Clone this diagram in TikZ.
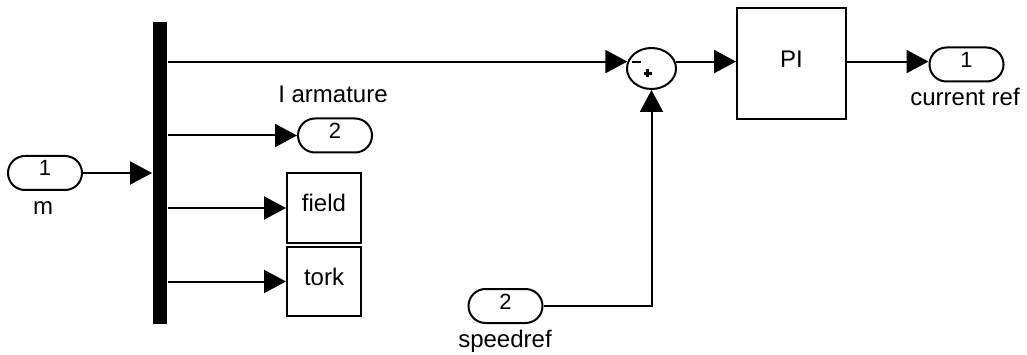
\documentclass[tikz,border=0pt]{standalone}
\usepackage{fontspec}
\setmainfont{Liberation Sans}
\usetikzlibrary{arrows.meta,shapes.misc,shapes.geometric,calc}
\begin{document}
\begin{tikzpicture}[x=1pt,y=-1pt,
  line width=2pt,
  sig/.style={draw, -{Triangle[length=22pt,width=23pt]}},
  port/.style={draw, rounded rectangle, minimum width=74pt, minimum height=34pt,
    inner sep=0pt, font=\fontsize{22}{22}\selectfont, text height=16pt, text depth=10pt},
  blk/.style={draw, rectangle, inner sep=0pt, font=\fontsize{24}{24}\selectfont,
    text height=17pt, text depth=9pt},
  lbl/.style={font=\fontsize{24}{24}\selectfont, inner sep=0pt, anchor=base},
  sign/.style={line width=2.2pt},
]
\useasboundingbox (0,0) rectangle (1027,355);

% inports
\node[port] (in1) at (45,173) {1};
\node[lbl] (lm) at (43,215) {m};
\node[port] (in2) at (505.5,306) {2};
\node[lbl] (lspd) at (505,347) {speedref};

% bus selector bar
\node[fill, inner sep=0pt, minimum width=13.5pt, minimum height=302pt] (bus) at (159.8,173) {};

% selected signals
\node[port] (out2) at (335,135.5) {2};
\node[lbl] (larm) at (333,103) {I armature};
\node[blk, minimum width=74pt, minimum height=70pt] (field) at (324,208) {field};
\node[blk, minimum width=74pt, minimum height=69pt] (tork) at (324,281.5) {tork};

% sum and controller
\node[draw, ellipse, minimum width=49pt, minimum height=41pt, inner sep=0pt] (sum) at (651.5,68.5) {};
\draw[sign] ($(sum)+(-19.5,-6.5)$) -- ++(9,0);
\draw[sign] ($(sum)+(-8,5)$) -- ++(8,0) ($(sum)+(-4,1)$) -- ++(0,8);
\node[blk, minimum width=109pt, minimum height=111pt] (pi) at (791.5,63.5) {PI};

% outport
\node[port] (out1) at (966.5,64.5) {1};
\node[lbl] (lcur) at (965,106) {current ref};

% connectors
\draw[sig] (in1.east) -- (bus.west |- in1.east);
\draw[sig] (bus.east |- sum.164) -- (sum.164);
\draw[sig] (bus.east |- out2.west) -- (out2.west);
\draw[sig] (bus.east |- field.west) -- (field.west);
\draw[sig] (bus.east |- tork.west) -- (tork.west);
\draw[sig] (sum.16) -- (pi.west |- sum.16);
\draw[sig] (pi.east |- sum.16) -- (out1.west |- sum.16);
\draw[sig] (in2.east) -- (sum.south |- in2.east) -- (sum.south);
\end{tikzpicture}
\end{document}
